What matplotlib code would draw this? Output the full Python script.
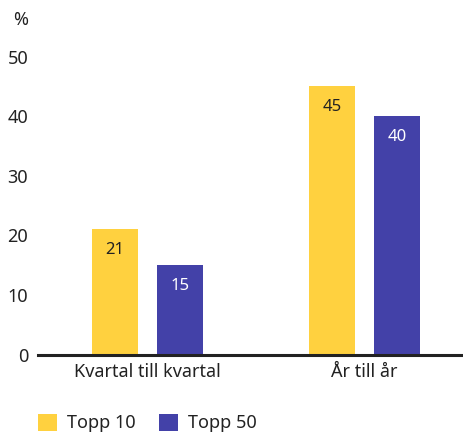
import matplotlib
matplotlib.use("Agg")
import matplotlib.pyplot as plt
from matplotlib.patches import Patch
import numpy as np

plt.rcParams['font.family'] = ['Noto Sans', 'DejaVu Sans']

categories = ["Kvartal till kvartal", "År till år"]
series_names = ["Topp 10", "Topp 50"]
topp10 = [21, 45]
topp50 = [15, 40]
y_ticks = [0, 10, 20, 30, 40, 50]

yellow = "#FFD13F"
blue = "#4341A8"
text_dark = "#222222"

W, H = 463, 432
fig = plt.figure(figsize=(W / 100, H / 100), dpi=100)
ax = fig.add_axes([38 / W, 77.5 / H, (W - 38) / W, 298 / H])

x = np.arange(len(categories))
bw = 0.212
off = 0.15
b1 = ax.bar(x - off, topp10, bw, color=yellow, zorder=2)
b2 = ax.bar(x + off, topp50, bw, color=blue, zorder=2)

for rects, vals, col in [(b1, topp10, text_dark), (b2, topp50, "white")]:
    for r, v in zip(rects, vals):
        ax.annotate(f"{v}", (r.get_x() + r.get_width() / 2, v),
                    xytext=(0, -21), textcoords="offset pixels",
                    ha="center", va="center", fontsize=12, color=col)

ax.set_xlim(-0.505, 1.454)
ax.set_ylim(0, 50)
ax.set_yticks(y_ticks)
ax.set_xticks(x)
ax.set_xticklabels(categories)
ax.tick_params(axis="y", length=0, pad=7, labelsize=13, labelcolor=text_dark)
ax.tick_params(axis="x", length=0, pad=6, labelsize=13, labelcolor=text_dark)
for s in ["top", "right", "left"]:
    ax.spines[s].set_visible(False)
ax.spines["bottom"].set_linewidth(2.2)
ax.spines["bottom"].set_color(text_dark)
ax.spines["bottom"].set_zorder(3)

fig.text(13 / W, 1 - 20 / H, "%", fontsize=13, color=text_dark, va="center", ha="left")

handles = [Patch(facecolor=yellow), Patch(facecolor=blue)]
fig.legend(handles, series_names, loc="upper left",
           bbox_to_anchor=(38 / W, 1 - 413.5 / H), ncol=2, frameon=False,
           handlelength=1.05, handleheight=1.1, borderpad=0, borderaxespad=0,
           handletextpad=0.55, columnspacing=1.3, fontsize=13,
           labelcolor=text_dark)

fig.savefig("out.png", dpi=100)
